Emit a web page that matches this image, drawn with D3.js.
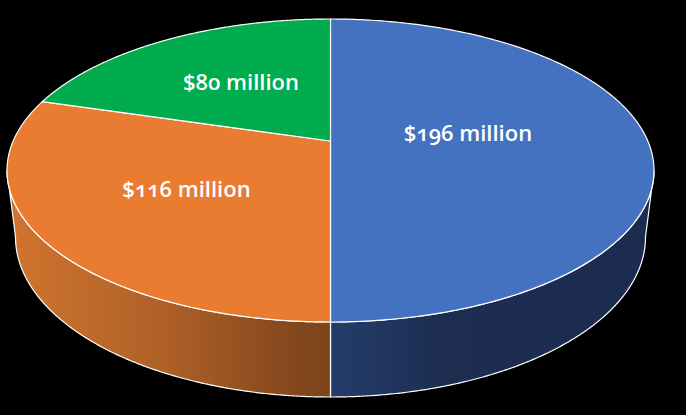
<!DOCTYPE html>
<html><head><meta charset="utf-8">
<script src="https://cdn.jsdelivr.net/npm/d3@7/dist/d3.min.js"></script>
<style>html,body{margin:0;padding:0;background:#000;overflow:hidden}
svg{display:block}
text{font-family:"Open Sans",sans-serif;font-weight:600;font-size:22px;fill:#fff;text-anchor:middle;font-feature-settings:"onum" 1;font-variant-numeric:oldstyle-nums}</style>
</head><body>
<svg id="c" width="686" height="415"></svg>
<script>
const categories = ["Blue share", "Orange share", "Green share"];
const values = [196, 116, 80];
const labels = ["$196 million", "$116 million", "$80 million"];
const topColors = ["#4472C0", "#E97C30", "#00AC4E"];

// layout
const W = 686, H = 415, cx = 330.5;
const persp = 0.1947;
const top_ = {rx: 323.5, ry: 151.5, cy: 170.5};
const bottom_ = {rx: 315, ry: 160, cy: 237};
const labelAt = [[468, 141], [186.5, 197], [241, 90]];

const svg = d3.select("#c");
const defs = svg.append("defs");
const g1 = defs.append("linearGradient").attr("id","wall0").attr("gradientUnits","userSpaceOnUse")
  .attr("x1",330).attr("x2",650).attr("y1",0).attr("y2",0);
[[0,"#253d6c"],[0.35,"#1c2d50"],[1,"#1b2c50"]].forEach(s=>g1.append("stop").attr("offset",s[0]).attr("stop-color",s[1]));
const g2 = defs.append("linearGradient").attr("id","wall1").attr("gradientUnits","userSpaceOnUse")
  .attr("x1",10).attr("x2",330).attr("y1",0).attr("y2",0);
[[0,"#d0752f"],[0.5,"#ad5f27"],[0.9,"#82471c"],[1,"#7e451a"]].forEach(s=>g2.append("stop").attr("offset",s[0]).attr("stop-color",s[1]));

const pie = d3.pie().sort(null).value(d=>d);
const arcs = pie(values);

function project(e, a, r) {
  const u = r*Math.sin(a), v = r*Math.cos(a), w = 1 + persp*v;
  const apex = e.cy - e.ry*persp;
  return [cx + e.rx*Math.sqrt(1-persp*persp)*u/w, apex - e.ry*(1-persp*persp)*v/w];
}
const line = d3.line().curve(d3.curveLinear);
const angles = (a,b,n=240) => d3.range(n+1).map(i=>a+(b-a)*i/n);
const tangent = Math.acos(-persp);

const wallSpans = [[tangent, Math.PI], [Math.PI, 2*Math.PI-tangent]];
wallSpans.forEach((s,i)=>{
  const a = angles(s[0],s[1]);
  const pts = a.map(t=>project(top_,t,1)).concat(a.slice().reverse().map(t=>project(bottom_,t,1)));
  svg.append("path").attr("d",line(pts)+"Z").attr("fill",`url(#wall${i})`)
    .attr("stroke","#fff").attr("stroke-width",1.2).attr("stroke-linejoin","round");
});

arcs.forEach((d,i)=>{
  const pts = [[...project(top_,0,0)]].concat(angles(d.startAngle,d.endAngle).map(t=>project(top_,t,1)));
  svg.append("path").attr("d",line(pts)+"Z").attr("fill",topColors[i])
    .attr("stroke","#fff").attr("stroke-width",1.2).attr("stroke-linejoin","round");
});

svg.selectAll("text.l").data(labels).join("text").attr("class","l")
  .attr("x",(d,i)=>labelAt[i][0]).attr("y",(d,i)=>labelAt[i][1]).text(d=>d);
</script>
</body></html>
